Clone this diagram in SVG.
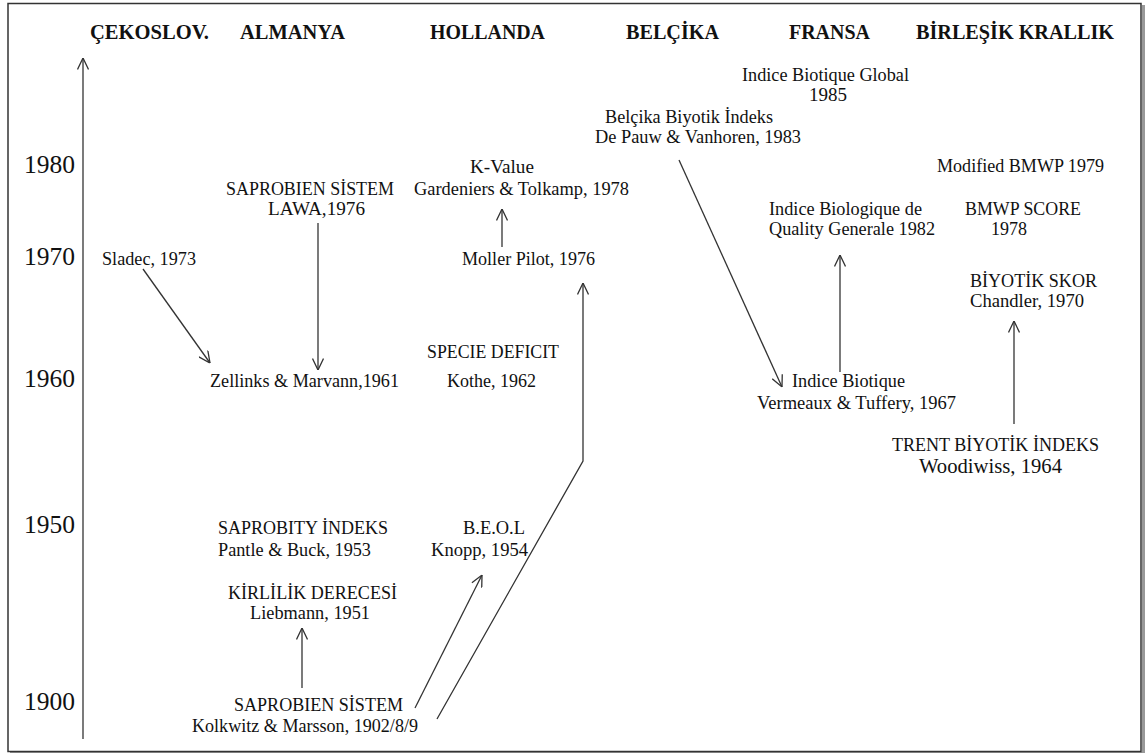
<svg xmlns="http://www.w3.org/2000/svg" width="1145" height="753" viewBox="0 0 1145 753">
<defs>
<style>
text{font-family:"Times New Roman","Liberation Serif",Tinos,serif;fill:#111;}
.h{font-size:20px;font-weight:bold;}
.y{font-size:26px;}
.n{font-size:18px;}
</style>
<marker id="ah" viewBox="0 0 12 12" refX="12" refY="6" markerWidth="12" markerHeight="12" markerUnits="userSpaceOnUse" orient="auto">
<path d="M0.5,0.5 L12,6 L0.5,11.5" fill="none" stroke="#333" stroke-width="1.3"/>
</marker>
</defs>
<rect x="0" y="0" width="1145" height="753" fill="#fff"/>
<rect x="1142" y="5" width="3" height="748" fill="#999"/>
<rect x="10" y="752" width="1135" height="1" fill="#999"/>
<rect x="8" y="3.5" width="1133" height="748" fill="#fff" stroke="#333" stroke-width="1.5"/>

<g id="headers">
<text class="h" x="90" y="39" textLength="119" lengthAdjust="spacingAndGlyphs">ÇEKOSLOV.</text>
<text class="h" x="240" y="39" textLength="105" lengthAdjust="spacingAndGlyphs">ALMANYA</text>
<text class="h" x="430" y="39" textLength="115" lengthAdjust="spacingAndGlyphs">HOLLANDA</text>
<text class="h" x="626" y="39" textLength="93" lengthAdjust="spacingAndGlyphs">BELÇİKA</text>
<text class="h" x="789" y="39" textLength="81" lengthAdjust="spacingAndGlyphs">FRANSA</text>
<text class="h" x="916" y="39" textLength="198" lengthAdjust="spacingAndGlyphs">BİRLEŞİK KRALLIK</text>
</g>

<g id="years">
<text class="y" x="24" y="173" textLength="51" lengthAdjust="spacingAndGlyphs">1980</text>
<text class="y" x="24" y="265" textLength="51" lengthAdjust="spacingAndGlyphs">1970</text>
<text class="y" x="24" y="387" textLength="51" lengthAdjust="spacingAndGlyphs">1960</text>
<text class="y" x="24" y="533" textLength="51" lengthAdjust="spacingAndGlyphs">1950</text>
<text class="y" x="24" y="710" textLength="51" lengthAdjust="spacingAndGlyphs">1900</text>
</g>

<g id="n-ibg"><text class="n" x="742" y="81" textLength="167" lengthAdjust="spacingAndGlyphs">Indice Biotique Global</text><text class="n" x="809" y="101" textLength="38" lengthAdjust="spacingAndGlyphs">1985</text></g>
<g id="n-bbi"><text class="n" x="605" y="123" textLength="168" lengthAdjust="spacingAndGlyphs">Belçika Biyotik İndeks</text><text class="n" x="595" y="143" textLength="206" lengthAdjust="spacingAndGlyphs">De Pauw &amp; Vanhoren, 1983</text></g>
<g id="n-kvalue"><text class="n" x="470" y="173" textLength="64" lengthAdjust="spacingAndGlyphs">K-Value</text><text class="n" x="414" y="195" textLength="215" lengthAdjust="spacingAndGlyphs">Gardeniers &amp; Tolkamp, 1978</text></g>
<g id="n-lawa"><text class="n" x="226" y="195" textLength="168" lengthAdjust="spacingAndGlyphs">SAPROBIEN SİSTEM</text><text class="n" x="268" y="215" textLength="97" lengthAdjust="spacingAndGlyphs">LAWA,1976</text></g>
<g id="n-mbmwp"><text class="n" x="937" y="172" textLength="167" lengthAdjust="spacingAndGlyphs">Modified BMWP 1979</text></g>
<g id="n-ibgq"><text class="n" x="769" y="215" textLength="153" lengthAdjust="spacingAndGlyphs">Indice Biologique de</text><text class="n" x="769" y="235" textLength="166" lengthAdjust="spacingAndGlyphs">Quality Generale 1982</text></g>
<g id="n-bmwp"><text class="n" x="965" y="215" textLength="116" lengthAdjust="spacingAndGlyphs">BMWP SCORE</text><text class="n" x="991" y="235" textLength="36" lengthAdjust="spacingAndGlyphs">1978</text></g>
<g id="n-sladec"><text class="n" x="102" y="265" textLength="94" lengthAdjust="spacingAndGlyphs">Sladec, 1973</text></g>
<g id="n-moller"><text class="n" x="462" y="265" textLength="133" lengthAdjust="spacingAndGlyphs">Moller Pilot, 1976</text></g>
<g id="n-biyotikskor"><text class="n" x="970" y="287" textLength="127" lengthAdjust="spacingAndGlyphs">BİYOTİK SKOR</text><text class="n" x="970" y="307" textLength="114" lengthAdjust="spacingAndGlyphs">Chandler, 1970</text></g>
<g id="n-specie"><text class="n" x="427" y="358" textLength="132" lengthAdjust="spacingAndGlyphs">SPECIE DEFICIT</text></g>
<g id="n-zellinks"><text class="n" x="210" y="387" textLength="189" lengthAdjust="spacingAndGlyphs">Zellinks &amp; Marvann,1961</text></g>
<g id="n-kothe"><text class="n" x="447" y="387" textLength="89" lengthAdjust="spacingAndGlyphs">Kothe, 1962</text></g>
<g id="n-ib"><text class="n" x="792" y="387" textLength="113" lengthAdjust="spacingAndGlyphs">Indice Biotique</text><text class="n" x="757" y="409" textLength="199" lengthAdjust="spacingAndGlyphs">Vermeaux &amp; Tuffery, 1967</text></g>
<g id="n-trent"><text class="n" x="892" y="451" textLength="207" lengthAdjust="spacingAndGlyphs">TRENT BİYOTİK İNDEKS</text><text class="n" x="919" y="473" style="font-size:20px" textLength="143" lengthAdjust="spacingAndGlyphs">Woodiwiss, 1964</text></g>
<g id="n-saprobity"><text class="n" x="218" y="534" textLength="170" lengthAdjust="spacingAndGlyphs">SAPROBITY İNDEKS</text><text class="n" x="218" y="556" textLength="153" lengthAdjust="spacingAndGlyphs">Pantle &amp; Buck, 1953</text></g>
<g id="n-beol"><text class="n" x="463" y="534" textLength="62" lengthAdjust="spacingAndGlyphs">B.E.O.L</text><text class="n" x="431" y="556" textLength="97" lengthAdjust="spacingAndGlyphs">Knopp, 1954</text></g>
<g id="n-kirlilik"><text class="n" x="228" y="599" textLength="169" lengthAdjust="spacingAndGlyphs">KİRLİLİK DERECESİ</text><text class="n" x="250" y="619" textLength="120" lengthAdjust="spacingAndGlyphs">Liebmann, 1951</text></g>
<g id="n-kolkwitz"><text class="n" x="234" y="711" textLength="169" lengthAdjust="spacingAndGlyphs">SAPROBIEN SİSTEM</text><text class="n" x="192" y="732" textLength="226" lengthAdjust="spacingAndGlyphs">Kolkwitz &amp; Marsson, 1902/8/9</text></g>

<g id="connectors" fill="none" stroke="#333" stroke-width="1.3">
<line x1="83" y1="739" x2="83" y2="58" marker-end="url(#ah)"/>
<line x1="143" y1="269" x2="210" y2="363" marker-end="url(#ah)"/>
<line x1="318" y1="223" x2="318" y2="370" marker-end="url(#ah)"/>
<line x1="502" y1="247" x2="502" y2="209" marker-end="url(#ah)"/>
<polyline points="437,719 583,461 583,283" marker-end="url(#ah)"/>
<line x1="415" y1="708" x2="482" y2="575" marker-end="url(#ah)"/>
<line x1="302" y1="688" x2="302" y2="628" marker-end="url(#ah)"/>
<line x1="679" y1="160" x2="782" y2="387" marker-end="url(#ah)"/>
<line x1="840" y1="372" x2="840" y2="255" marker-end="url(#ah)"/>
<line x1="1014" y1="424" x2="1014" y2="321" marker-end="url(#ah)"/>
</g>
</svg>
